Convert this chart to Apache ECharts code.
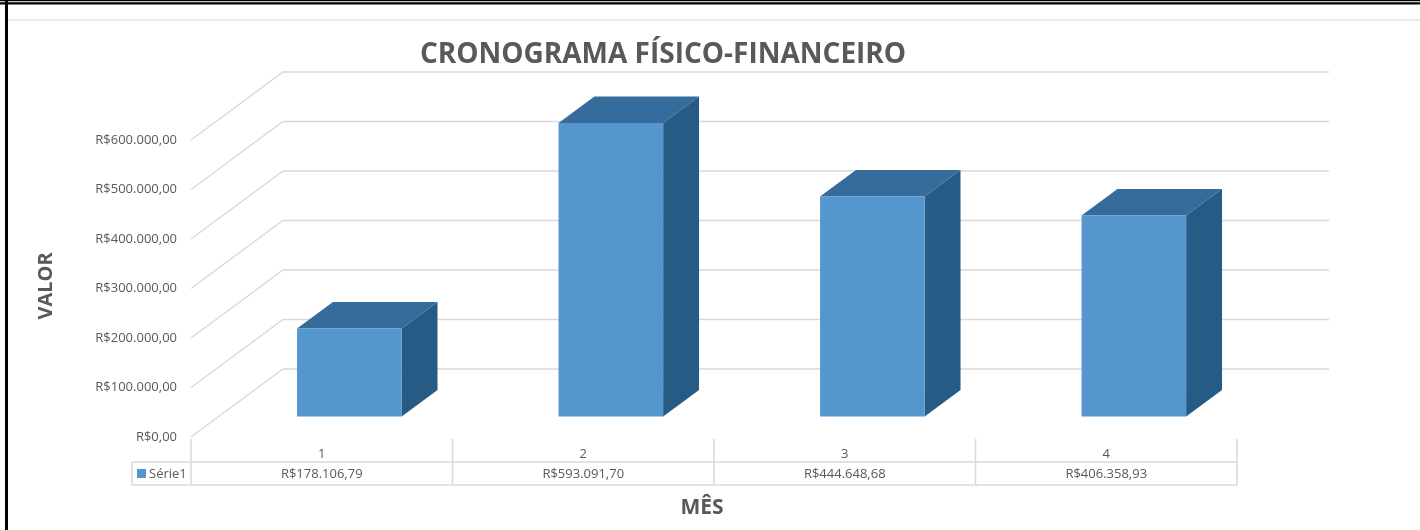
<!DOCTYPE html>
<html>
<head>
<meta charset="utf-8">
<title>Cronograma físico-financeiro</title>
<script src="https://cdn.jsdelivr.net/npm/echarts@6/dist/echarts.min.js"></script>
<style>
  html, body { margin: 0; padding: 0; background: #fff; }
  #chart { width: 1420px; height: 530px; }
</style>
</head>
<body>
<div id="chart"></div>
<script>
// dados do gráfico
var meses = ['1', '2', '3', '4'];
var valores = [178106.79, 593091.70, 444648.68, 406358.93];
var nomeSerie = 'Série1';
var ticksValor = [0, 100000, 200000, 300000, 400000, 500000, 600000];

var cinza = '#595959';
var linha = '#d9d9d9';
var fonte = '"Open Sans", "Liberation Sans", sans-serif';
// profundidade 3D (deslocamento da parede de fundo)
var prof = [92, -68];
var frenteBarra = 0.3, fundoBarra = 0.69;

function brl(v) {
  var partes = v.toFixed(2).split('.');
  var inteiro = partes[0].replace(/\B(?=(\d{3})+(?!\d))/g, '.');
  return 'R$' + inteiro + ',' + partes[1];
}

// linhas de grade em perspectiva (parede lateral + fundo)
function renderGrade(params, api) {
  var cs = params.coordSys;
  var y = api.coord([0, api.value(0)])[1];
  return {
    type: 'polyline',
    shape: {
      points: [
        [cs.x, y],
        [cs.x + prof[0], y + prof[1]],
        [cs.x + cs.width + prof[0], y + prof[1]]
      ]
    },
    style: { stroke: linha, lineWidth: 1.3, fill: null }
  };
}

// colunas 3D
function renderColuna(params, api) {
  var i = api.value(0);
  var topo = api.coord([i, api.value(1)]);
  var base = api.coord([i, 0]);
  var larg = api.size([1, 0])[0] * 0.4;
  var dx1 = prof[0] * frenteBarra, dy1 = prof[1] * frenteBarra;
  var dx2 = prof[0] * fundoBarra, dy2 = prof[1] * fundoBarra;
  var x0 = topo[0] - larg / 2 + dx1, x1 = x0 + larg;
  var yt = topo[1] + dy1, yb = base[1] + dy1;
  var ox = dx2 - dx1, oy = dy2 - dy1;
  return {
    type: 'group',
    children: [
      { type: 'polygon', shape: { points: [[x1, yt], [x1 + ox, yt + oy], [x1 + ox, yb + oy], [x1, yb]] },
        style: { fill: '#255b85' } },
      { type: 'polygon', shape: { points: [[x0, yt], [x0 + ox, yt + oy], [x1 + ox, yt + oy], [x1, yt]] },
        style: { fill: '#356c9c' } },
      { type: 'rect', shape: { x: x0, y: yt, width: larg, height: yb - yt },
        style: { fill: '#5596cf' } }
    ]
  };
}

// tabela de dados abaixo do eixo
function renderTabela(params, api) {
  var i = api.value(0);
  var c = api.coord([i, 0]);
  var w = api.size([1, 0])[0];
  var x0 = c[0] - w / 2, x1 = c[0] + w / 2, y0 = c[1];
  var st = { stroke: linha, lineWidth: 1.5 };
  var filhos = [
    { type: 'line', shape: { x1: x0, y1: y0 + 2, x2: x0, y2: y0 + 48 }, style: st },
    { type: 'line', shape: { x1: x0, y1: y0 + 25, x2: x1, y2: y0 + 25 }, style: st },
    { type: 'line', shape: { x1: x0, y1: y0 + 48, x2: x1, y2: y0 + 48 }, style: st },
    { type: 'text', x: c[0], y: y0 + 37.5,
      style: { text: brl(api.value(1)), fill: cinza, font: '13px ' + fonte, align: 'center', verticalAlign: 'middle' } }
  ];
  if (i === meses.length - 1) {
    filhos.push({ type: 'line', shape: { x1: x1, y1: y0 + 2, x2: x1, y2: y0 + 48 }, style: st });
  }
  if (i === 0) {
    var xl = x0 - 59;
    filhos.push(
      { type: 'line', shape: { x1: xl, y1: y0 + 25, x2: x0, y2: y0 + 25 }, style: st },
      { type: 'line', shape: { x1: xl, y1: y0 + 48, x2: x0, y2: y0 + 48 }, style: st },
      { type: 'line', shape: { x1: xl, y1: y0 + 25, x2: xl, y2: y0 + 48 }, style: st },
      { type: 'rect', shape: { x: xl + 5, y: y0 + 32, width: 9, height: 9 }, style: { fill: '#5596cf' } },
      { type: 'text', x: xl + 17, y: y0 + 37.5,
        style: { text: nomeSerie, fill: cinza, font: '13px ' + fonte, align: 'left', verticalAlign: 'middle' } }
    );
  }
  return { type: 'group', children: filhos };
}

var chart = echarts.init(document.getElementById('chart'), null, { renderer: 'canvas' });

var option = {
  animation: false,
  backgroundColor: '#fff',
  grid: { left: 191, right: 183, top: 140, bottom: 93 },
  xAxis: {
    type: 'category',
    data: meses,
    axisLine: { show: false },
    axisTick: { show: false },
    axisLabel: { color: cinza, fontSize: 13, fontFamily: fonte, margin: 11 }
  },
  yAxis: {
    type: 'value',
    min: 0,
    max: 600000,
    interval: 100000,
    splitLine: { show: false },
    axisLine: { show: false },
    axisTick: { show: false },
    axisLabel: { color: cinza, fontSize: 13, fontFamily: fonte, margin: 14, padding: [5, 0, 0, 0], formatter: brl }
  },
  graphic: [
    { type: 'rect', shape: { x: 0, y: 0, width: 1420, height: 1.3 }, style: { fill: '#000' } },
    { type: 'rect', shape: { x: 0, y: 2.3, width: 1420, height: 2.3 }, style: { fill: '#000' } },
    { type: 'rect', shape: { x: 5, y: 0, width: 3, height: 530 }, style: { fill: '#000' } },
    { type: 'rect', shape: { x: 8, y: 19.3, width: 1412, height: 1.3 }, style: { fill: '#dedede' } },
    { type: 'text', x: 663, y: 55,
      style: { text: 'CRONOGRAMA FÍSICO-FINANCEIRO', fill: cinza, font: 'bold 28px ' + fonte, align: 'center', verticalAlign: 'middle' } },
    { type: 'text', x: 46, y: 286, rotation: Math.PI / 2,
      style: { text: 'VALOR', fill: cinza, font: 'bold 20px ' + fonte, align: 'center', verticalAlign: 'middle' } },
    { type: 'text', x: 702, y: 508,
      style: { text: 'MÊS', fill: cinza, font: 'bold 21px ' + fonte, align: 'center', verticalAlign: 'middle' } }
  ],
  series: [
    {
      type: 'custom',
      name: 'grade',
      clip: false,
      silent: true,
      z: 1,
      renderItem: renderGrade,
      data: ticksValor.map(function (v) { return [v]; })
    },
    {
      type: 'custom',
      name: nomeSerie,
      clip: false,
      z: 3,
      renderItem: renderColuna,
      encode: { x: 0, y: 1 },
      data: valores.map(function (v, i) { return [i, v]; })
    },
    {
      type: 'custom',
      name: 'tabela',
      clip: false,
      silent: true,
      z: 2,
      renderItem: renderTabela,
      encode: { x: 0 },
      data: valores.map(function (v, i) { return [i, v]; })
    }
  ]
};

chart.setOption(option);
</script>
</body>
</html>
